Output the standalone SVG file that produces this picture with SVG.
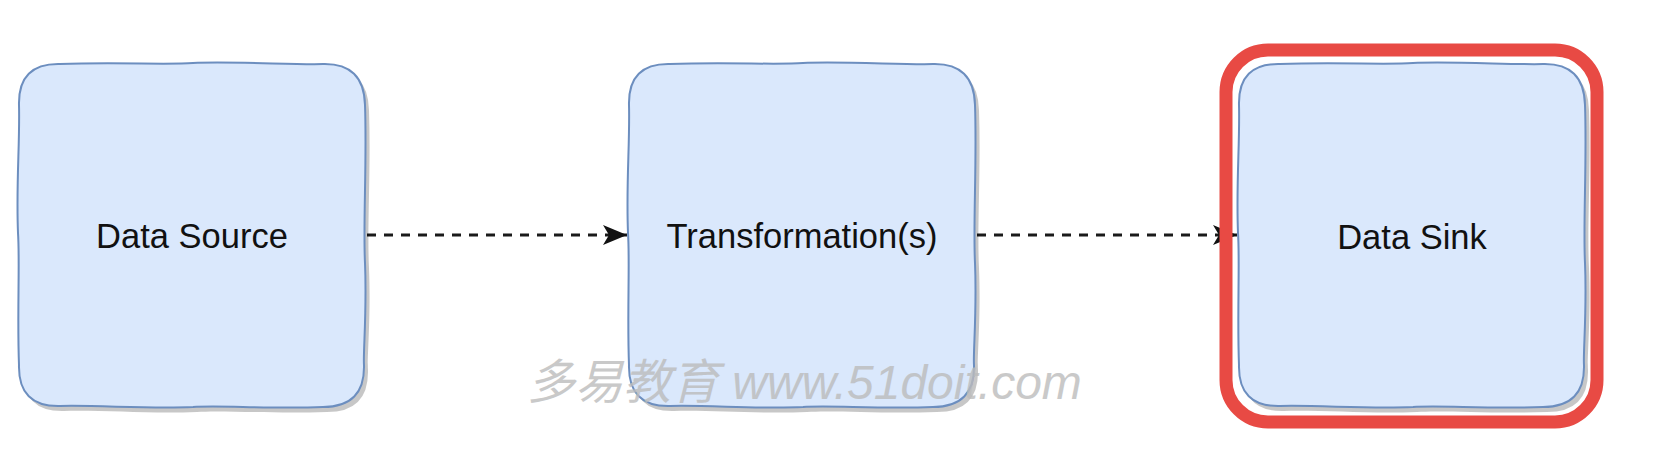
<svg xmlns="http://www.w3.org/2000/svg" width="1662" height="460" viewBox="0 0 1662 460">
<style>
.box{fill:#dae8fc;stroke:#6c8ebf;stroke-width:2}
.shadow{fill:#000;opacity:0.22}
.label{font-family:"Liberation Sans",Arial,sans-serif;font-size:34.5px;fill:#111;text-anchor:middle}
.edge{fill:none;stroke:#1a1a1a;stroke-width:3;stroke-dasharray:9 8}
.wm{font-family:"Liberation Sans","Noto Sans CJK SC",sans-serif;font-size:48px;font-style:italic;fill:#bcbcbc;opacity:0.8}
</style>
<defs>
<path id="shape" d="M42,1 C100,-1 150,2 175,0 C210,-2 280,2 305,1 Q346,0 347,42 C349,100 345,160 347,200 C349,250 345,290 346,302 Q347,344 305,344 C250,346 200,342 175,344 C130,346 80,342 42,343 Q0,344 1,302 C-1,250 2,200 0,170 C-2,120 2,80 1,42 Q0,0 42,1 Z"/>
<marker id="arrow" markerUnits="userSpaceOnUse" markerWidth="26" markerHeight="22" refX="24" refY="10" orient="auto" viewBox="0 0 26 22">
<path d="M0,0 L24,10 L0,20 L6,10 Z" fill="#111"/>
</marker>
</defs>
<rect width="1662" height="460" fill="#fff"/>
<g id="connectors">
<line class="edge" x1="367" y1="235" x2="627" y2="235" marker-end="url(#arrow)"/>
<line class="edge" x1="977" y1="235" x2="1237" y2="235" marker-end="url(#arrow)"/>
</g>
<g id="data-source">
<use href="#shape" class="shadow" transform="translate(22,68)"/>
<use href="#shape" class="box" transform="translate(18,63)"/>
<text class="label" x="192" y="248">Data Source</text>
</g>
<g id="transformations">
<use href="#shape" class="shadow" transform="translate(632,68)"/>
<use href="#shape" class="box" transform="translate(628,63)"/>
<text class="label" x="802" y="248">Transformation(s)</text>
</g>
<g id="data-sink">
<use href="#shape" class="shadow" transform="translate(1242,68)"/>
<use href="#shape" class="box" transform="translate(1238,63)"/>
<text class="label" x="1412" y="249">Data Sink</text>
</g>
<g id="highlight">
<rect x="1226" y="50" width="371" height="372" rx="42" fill="none" stroke="#e84a44" stroke-width="13"/>
</g>
<text class="wm" x="527" y="399">多易教育 www.51doit.com</text>
</svg>
